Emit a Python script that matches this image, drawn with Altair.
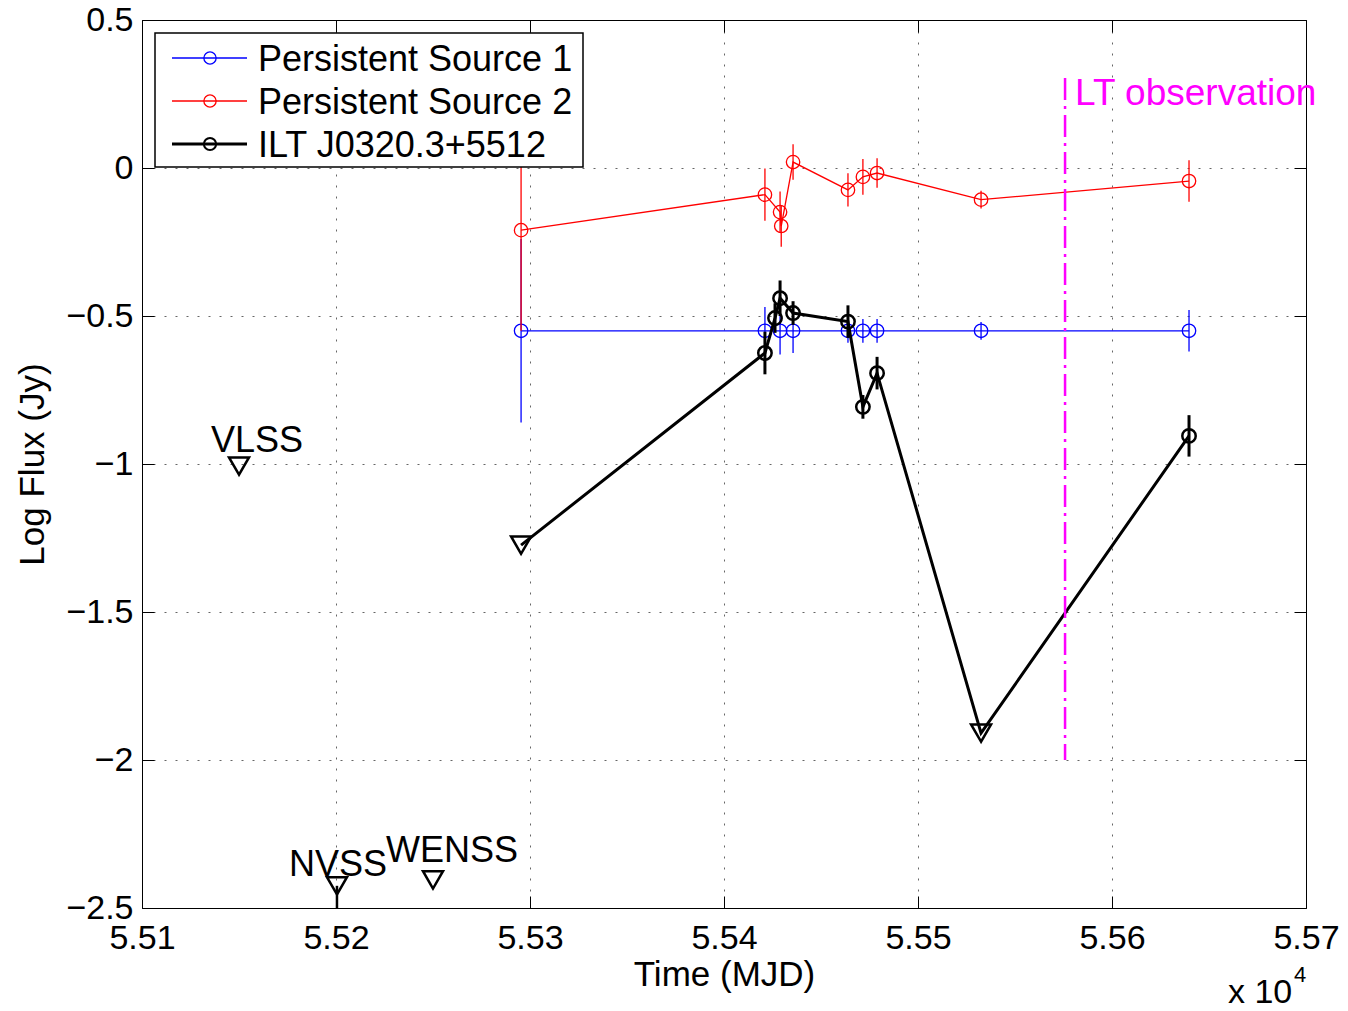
import altair as alt
import pandas as pd

FONT = "Liberation Sans"
W, H = 1164, 888

# Axis ticks
x_ticks = [55100, 55200, 55300, 55400, 55500, 55600, 55700]
y_ticks = [-2.5, -2.0, -1.5, -1.0, -0.5, 0.0, 0.5]

# Persistent Source 1
ps1_mjd = [55295.4, 55421.1, 55428.9, 55435.6, 55463.9, 55471.6, 55478.9, 55532.5, 55639.7]
ps1_flux = [-0.55, -0.55, -0.55, -0.55, -0.55, -0.55, -0.55, -0.55, -0.55]
ps1_err = [0.31, 0.08, 0.08, 0.075, 0.04, 0.04, 0.04, 0.03, 0.07]

# Persistent Source 2
ps2_mjd = [55295.4, 55421.1, 55428.9, 55429.5, 55435.6, 55463.9, 55471.6, 55478.9, 55532.5, 55639.7]
ps2_flux = [-0.21, -0.09, -0.149, -0.196, 0.02, -0.074, -0.03, -0.017, -0.107, -0.044]
ps2_err = [0.34, 0.088, 0.07, 0.07, 0.06, 0.056, 0.06, 0.05, 0.03, 0.07]

# ILT J0320.3+5512 (limit = 1 marks an upper limit)
ilt_mjd = [55295.4, 55421.1, 55426.3, 55428.9, 55435.6, 55463.9, 55471.6, 55478.9, 55532.5, 55639.7]
ilt_flux = [-1.274, -0.625, -0.507, -0.44, -0.49, -0.519, -0.807, -0.693, -1.909, -0.905]
ilt_err = [0.0, 0.072, 0.05, 0.06, 0.04, 0.055, 0.04, 0.055, 0.0, 0.07]
ilt_limit = [1, 0, 0, 0, 0, 0, 0, 0, 1, 0]

# Archival survey upper limits
survey_names = ["VLSS", "NVSS", "WENSS"]
survey_mjd = [55150.0, 55200.5, 55250.0]
survey_flux = [-1.007, -2.425, -2.405]
survey_label_mjd = [55135.6, 55175.8, 55225.8]
survey_label_flux = [-0.959, -2.392, -2.345]
survey_err_lo = [-1.007, -2.5, -2.405]

# LOFAR transient observation epoch
lt_mjd = 55575.8
lt_top, lt_bottom = 0.304, -2.0
lt_label_flux = 0.213

legend_names = ["Persistent Source 1", "Persistent Source 2", "ILT J0320.3+5512"]
legend_colors = ["#0000ff", "#ff0000", "#000000"]
legend_widths = [1.3, 1.3, 3.0]
legend_rows = [38, 81, 124]

xs = alt.Scale(domain=[55100, 55700], nice=False, zero=False)
ys = alt.Scale(domain=[-2.5, 0.5], nice=False, zero=False)

x_axis = alt.Axis(
    values=x_ticks, labelExpr="format(datum.value / 10000, '.2f')",
    title="Time (MJD)", grid=True, gridDash=[2, 9], gridColor="#000000",
    gridOpacity=0.6, gridWidth=1, ticks=False, domain=False, labelFlush=False,
    labelFontSize=34, labelFont=FONT, labelColor="black", labelPadding=13,
    titleFontSize=35, titleFont=FONT, titleColor="black", titleFontWeight="normal",
    titleY=77, titleBaseline="alphabetic",
)
y_axis = alt.Axis(
    values=y_ticks, labelExpr="replace(toString(datum.value), '-', '\u2212')",
    title="Log Flux (Jy)", grid=True, gridDash=[2, 9], gridColor="#000000",
    gridOpacity=0.6, gridWidth=1, ticks=False, domain=False, labelFlush=False,
    labelFontSize=34, labelFont=FONT, labelColor="black", labelPadding=9,
    titleFontSize=35, titleFont=FONT, titleColor="black", titleFontWeight="normal",
    titleX=-99, titleY=H / 2, titleAngle=270, titleBaseline="alphabetic", titleAlign="center",
)


def X(field="mjd"):
    return alt.X(f"{field}:Q", scale=xs, axis=x_axis)


def Y(field="flux"):
    return alt.Y(f"{field}:Q", scale=ys, axis=y_axis)


def frame(mjd, flux, err):
    df = pd.DataFrame({"mjd": mjd, "flux": flux, "err": err})
    df["lo"] = df["flux"] - df["err"]
    df["hi"] = df["flux"] + df["err"]
    df["idx"] = range(len(df))
    return df


def series(df, color, lw, mw):
    err = alt.Chart(df).mark_rule(color=color, strokeWidth=lw).encode(
        x=X(), y=Y("lo"), y2="hi")
    line = alt.Chart(df).mark_line(color=color, strokeWidth=lw).encode(
        x=X(), y=Y(), order="idx:Q")
    pts = alt.Chart(df).mark_point(
        shape="circle", filled=False, size=180, color=color, strokeWidth=mw, opacity=1
    ).encode(x=X(), y=Y())
    return [err, line, pts]


ps1 = frame(ps1_mjd, ps1_flux, ps1_err)
ps2 = frame(ps2_mjd, ps2_flux, ps2_err)
ilt = frame(ilt_mjd, ilt_flux, ilt_err)
ilt["limit"] = ilt_limit

layers = []
layers += series(ps1, "#0000ff", 1.3, 1.3)
layers += series(ps2, "#ff0000", 1.3, 1.3)

ilt_det = ilt[ilt["limit"] == 0]
ilt_lim = ilt[ilt["limit"] == 1]
layers.append(alt.Chart(ilt_det).mark_rule(color="black", strokeWidth=3).encode(
    x=X(), y=Y("lo"), y2="hi"))
layers.append(alt.Chart(ilt).mark_line(color="black", strokeWidth=3).encode(
    x=X(), y=Y(), order="idx:Q"))
layers.append(alt.Chart(ilt_det).mark_point(
    shape="circle", filled=False, size=180, color="black", strokeWidth=2.5, opacity=1
).encode(x=X(), y=Y()))
layers.append(alt.Chart(ilt_lim).mark_point(
    shape="triangle-down", filled=False, size=400, color="black", strokeWidth=2.5, opacity=1
).encode(x=X(), y=Y()))

surveys = pd.DataFrame({
    "name": survey_names, "mjd": survey_mjd, "flux": survey_flux,
    "lmjd": survey_label_mjd, "lflux": survey_label_flux, "lo": survey_err_lo,
})
layers.append(alt.Chart(surveys).mark_rule(color="black", strokeWidth=2.5).encode(
    x=X(), y=Y("lo"), y2="flux"))
layers.append(alt.Chart(surveys).mark_point(
    shape="triangle-down", filled=False, size=400, color="black", strokeWidth=2.5, opacity=1
).encode(x=X(), y=Y()))
layers.append(alt.Chart(surveys).mark_text(
    align="left", baseline="alphabetic", fontSize=36, font=FONT, color="black"
).encode(x=X("lmjd"), y=Y("lflux"), text="name:N"))

lt = pd.DataFrame({"mjd": [lt_mjd], "top": [lt_top], "bottom": [lt_bottom],
                   "ly": [lt_label_flux], "label": ["LT observation"]})
layers.append(alt.Chart(lt).mark_rule(
    color="#ff00ff", strokeWidth=2.5, strokeDash=[22, 6, 3, 6]
).encode(x=X(), y=Y("top"), y2="bottom"))
layers.append(alt.Chart(lt).mark_text(
    align="left", baseline="alphabetic", dx=10, fontSize=37, font=FONT, color="#ff00ff"
).encode(x=X(), y=Y("ly"), text="label:N"))

# Legend box drawn on top of the data
one = pd.DataFrame({"k": [0]})
layers.append(alt.Chart(one).mark_rect(
    fill="white", stroke="black", strokeWidth=1.5
).encode(x=alt.value(13), x2=alt.value(441), y=alt.value(13), y2=alt.value(147)))
for name, col, w, ry in zip(legend_names, legend_colors, legend_widths, legend_rows):
    layers.append(alt.Chart(one).mark_rule(color=col, strokeWidth=w).encode(
        x=alt.value(30), x2=alt.value(105), y=alt.value(ry)))
    layers.append(alt.Chart(one).mark_point(
        shape="circle", filled=False, size=150, color=col,
        strokeWidth=2.0 if w > 2 else 1.3, opacity=1
    ).encode(x=alt.value(68), y=alt.value(ry)))
    layers.append(alt.Chart(one).mark_text(
        align="left", baseline="middle", fontSize=36, font=FONT, color="black"
    ).encode(x=alt.value(116), y=alt.value(ry + 2), text=alt.value(name)))

# Axis multiplier note
layers.append(alt.Chart(one).mark_text(
    align="left", baseline="alphabetic", fontSize=34, font=FONT, color="black"
).encode(x=alt.value(1086), y=alt.value(983), text=alt.value("x 10")))
layers.append(alt.Chart(one).mark_text(
    align="left", baseline="alphabetic", fontSize=22, font=FONT, color="black"
).encode(x=alt.value(1152), y=alt.value(962), text=alt.value("4")))

main = alt.layer(*layers)

# Inward-pointing tick marks on all four sides
tick_df = pd.DataFrame({"mjd": [55100], "flux": [-2.5]})


def tick_axis(orient, offset, vals):
    return alt.Axis(orient=orient, offset=offset, values=vals, labels=False,
                    domain=False, grid=False, ticks=True, tickSize=12,
                    tickColor="black", tickWidth=1, title="")


ticks_a = alt.Chart(tick_df).mark_point(opacity=0).encode(
    x=alt.X("mjd:Q", scale=xs, axis=tick_axis("top", -H, x_ticks)),
    y=alt.Y("flux:Q", scale=ys, axis=tick_axis("right", -W, y_ticks)),
)
ticks_b = alt.Chart(tick_df).mark_point(opacity=0).encode(
    x=alt.X("mjd:Q", scale=xs, axis=tick_axis("bottom", -H, x_ticks)),
    y=alt.Y("flux:Q", scale=ys, axis=tick_axis("left", -W, y_ticks)),
)

chart = alt.layer(main, ticks_a, ticks_b).resolve_axis(
    x="independent", y="independent"
).properties(
    width=W, height=H,
    autosize=alt.AutoSizeParams(type="none"),
    padding={"left": 142, "top": 20, "right": 42, "bottom": 103},
    background="white",
).configure_view(stroke="black", strokeWidth=1)

chart.save("out.html", embed_options={"renderer": "svg", "actions": False})
